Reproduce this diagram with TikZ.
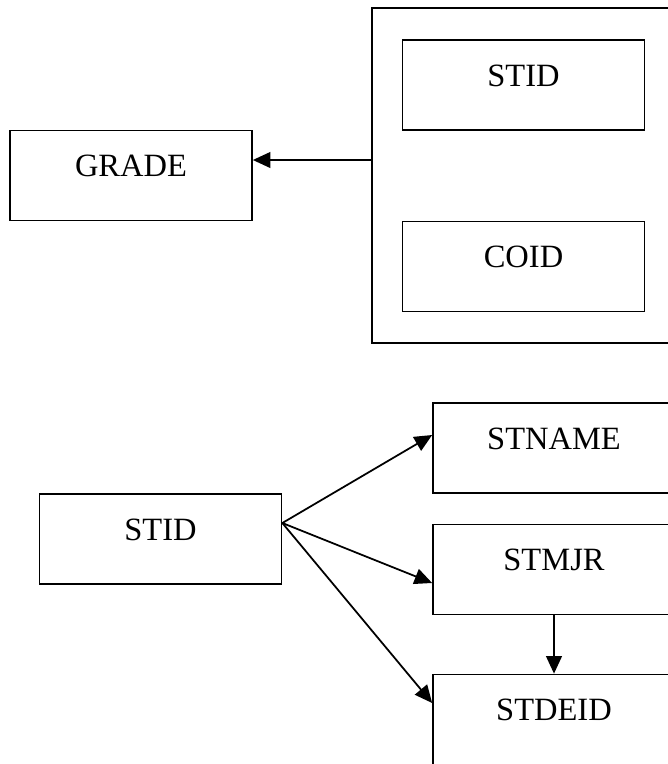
\documentclass[tikz,border=0pt]{standalone}
\usepackage{fontspec}
\setmainfont{Liberation Serif}
\usetikzlibrary{arrows.meta}

\begin{document}
\begin{tikzpicture}[x=0.02cm,y=-0.02cm,->,>={Triangle[length=10pt,width=9pt]},line width=1pt,
        box/.style={rectangle,draw=black,inner sep=0pt,minimum width=4.84cm,
          text height=0.92cm,text depth=0.88cm,font=\fontsize{18.5}{20}\selectfont},
        keybox/.style={rectangle,draw=black,inner sep=0pt,minimum width=6.16cm,minimum height=6.7cm}]
        \useasboundingbox (0,0) rectangle (668,764);
        \clip (0,0) rectangle (668,764);
        % dependency on the composite key
        \node[keybox] (key) at (526,175.5) {};
        \node[box]  (kst) at (523.5,85) {STID};
        \node[box]  (kco) at (523.5,266.5) {COID};
        \node[box]  (g) at (131,175.5) {GRADE};
        % dependencies on STID
        \node[box]  (st) at (160.5,539) {STID};
        \node[box]  (nm) at (554,448) {STNAME};
        \node[box]  (mj) at (554,569.5) {STMJR};
        \node[box]  (de) at (554,719.5) {STDEID};
        \path
          ([yshift=0.31cm]key.west) edge ([yshift=0.31cm]g.east)
          ([yshift=0.32cm]st.east) edge ([yshift=0.26cm]nm.west)
          ([yshift=0.32cm]st.east) edge ([yshift=-0.27cm]mj.west)
          ([yshift=0.32cm]st.east) edge ([yshift=0.33cm]de.west)
          (mj) edge (de)
          ;
      \end{tikzpicture}
\end{document}
